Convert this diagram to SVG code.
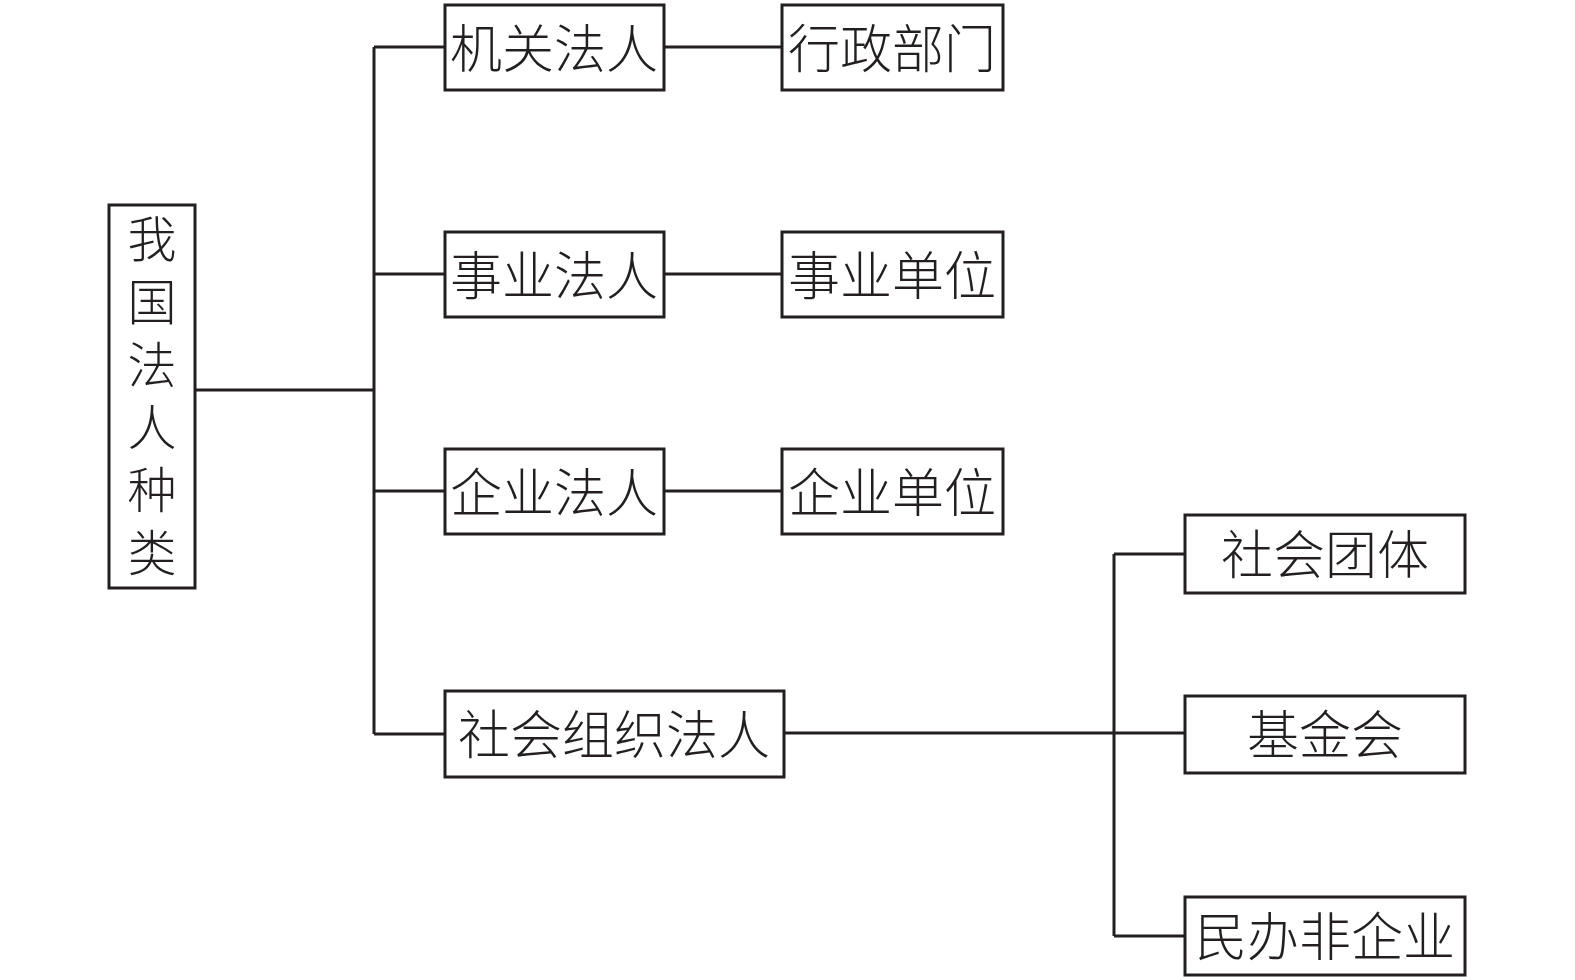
<svg xmlns="http://www.w3.org/2000/svg" width="1575" height="980" viewBox="0 0 1575 980">
<style>
.box{fill:#fff;stroke:#231f20;stroke-width:3}
.ln{fill:none;stroke:#231f20;stroke-width:3}
text{font-family:"Noto Sans CJK SC","Noto Sans CJK JP",sans-serif;font-size:52px;font-weight:300;fill:#231f20;text-anchor:middle;dominant-baseline:central}
.v{font-size:49px;writing-mode:vertical-rl;text-anchor:start;letter-spacing:13.8px}
</style>
<rect width="1575" height="980" fill="#fff"/>
<g id="connectors">
<path class="ln" d="M195 390H374M374 47V734M374 47H445M374 274H445M374 491H445M374 734H445"/>
<path class="ln" d="M664 47H782M664 274H782M664 491H782"/>
<path class="ln" d="M784 733H1185M1114 554V936M1114 554H1185M1114 936H1185"/>
</g>
<g id="root"><rect class="box" x="109" y="205" width="86" height="383"/>
<text class="v" x="152" y="214">我国法人种类</text></g>
<g id="jiguan"><rect class="box" x="445" y="5" width="219" height="85"/><text x="554" y="45">机关法人</text></g>
<g id="xingzheng"><rect class="box" x="782" y="5" width="221" height="85"/><text x="892" y="45">行政部门</text></g>
<g id="shiye"><rect class="box" x="445" y="232" width="219" height="85"/><text x="554" y="272">事业法人</text></g>
<g id="shiyedanwei"><rect class="box" x="782" y="232" width="221" height="85"/><text x="892" y="272">事业单位</text></g>
<g id="qiye"><rect class="box" x="445" y="449" width="219" height="85"/><text x="554" y="489">企业法人</text></g>
<g id="qiyedanwei"><rect class="box" x="782" y="449" width="221" height="85"/><text x="892" y="489">企业单位</text></g>
<g id="shehuizuzhi"><rect class="box" x="445" y="691" width="339" height="86"/><text x="614" y="731">社会组织法人</text></g>
<g id="shehuituanti"><rect class="box" x="1185" y="515" width="280" height="78"/><text x="1325" y="551">社会团体</text></g>
<g id="jijinhui"><rect class="box" x="1185" y="696" width="280" height="77"/><text x="1325" y="731">基金会</text></g>
<g id="minban"><rect class="box" x="1185" y="897" width="280" height="78"/><text x="1325" y="933">民办非企业</text></g>
</svg>
